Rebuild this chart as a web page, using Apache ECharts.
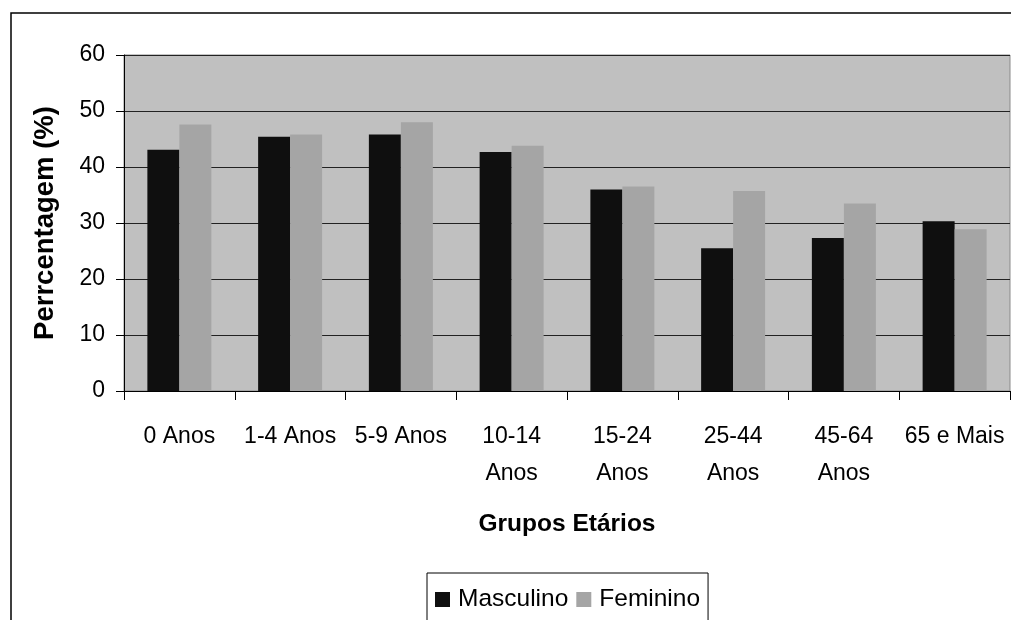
<!DOCTYPE html>
<html>
<head>
<meta charset="utf-8">
<script src="https://cdn.jsdelivr.net/npm/echarts@6/dist/echarts.min.js"></script>
<style>
html,body{margin:0;padding:0;background:#fff;}
#chart{width:1011px;height:620px;}
</style>
</head>
<body>
<div id="chart"></div>
<script>
var categories = ['0 Anos', '1-4 Anos', '5-9 Anos', '10-14\nAnos', '15-24\nAnos', '25-44\nAnos', '45-64\nAnos', '65 e Mais'];
var masculino = [43.1, 45.4, 45.8, 42.7, 36.0, 25.5, 27.3, 30.3];
var feminino = [47.6, 45.8, 48.0, 43.8, 36.5, 35.7, 33.5, 28.9];
var yTicks = { min: 0, max: 60, interval: 10 };

var FONT = "'Liberation Sans', Arial, sans-serif";
var chart = echarts.init(document.getElementById('chart'));
chart.setOption({
  animation: false,
  backgroundColor: '#fff',
  textStyle: { fontFamily: FONT },
  graphic: [{
    type: 'rect',
    shape: { x: 11, y: 13, width: 1100, height: 700 },
    style: { fill: 'none', stroke: '#000', lineWidth: 1.5 },
    z: -10
  }],
  grid: {
    left: 124, right: 1, top: 55, bottom: 229,
    show: true, backgroundColor: '#c0c0c0', borderColor: '#8a8a8a', borderWidth: 1
  },
  legend: {
    data: ['Masculino', 'Feminino'],
    left: 427, top: 573,
    padding: [14, 8, 20, 8],
    borderColor: '#000', borderWidth: 1, backgroundColor: '#fff',
    itemWidth: 15, itemHeight: 15, itemGap: 8,
    icon: 'rect',
    textStyle: { fontSize: 24.5, color: '#000', fontFamily: FONT, padding: [0, 0, 0, 3] }
  },
  xAxis: {
    type: 'category',
    data: categories,
    name: 'Grupos Etários',
    nameLocation: 'middle',
    nameGap: 121,
    nameTextStyle: { fontSize: 24.5, fontWeight: 'bold', color: '#000', fontFamily: FONT },
    axisLine: { show: true, lineStyle: { color: '#000', width: 1 } },
    axisTick: { show: true, interval: 0, length: 9, lineStyle: { color: '#000' } },
    axisLabel: { interval: 0, fontSize: 23, lineHeight: 37, color: '#000', margin: 27, fontFamily: FONT }
  },
  yAxis: {
    type: 'value',
    min: yTicks.min, max: yTicks.max, interval: yTicks.interval,
    name: 'Perrcentagem (%)',
    nameLocation: 'middle',
    nameGap: 65,
    nameTextStyle: { fontSize: 27.5, fontWeight: 'bold', color: '#000', fontFamily: FONT },
    axisLine: { show: true, lineStyle: { color: '#000', width: 1 } },
    axisTick: { show: true, length: 8, lineStyle: { color: '#000' } },
    axisLabel: { fontSize: 23, color: '#000', margin: 19, fontFamily: FONT },
    splitLine: { show: true, lineStyle: { color: '#222', width: 1 } }
  },
  series: [
    { name: 'Masculino', type: 'bar', data: masculino, barWidth: 32, barGap: '0%', itemStyle: { color: '#0f0f0f' } },
    { name: 'Feminino', type: 'bar', data: feminino, barWidth: 32, barGap: '0%', itemStyle: { color: '#a5a5a5' } }
  ]
});
</script>
</body>
</html>
